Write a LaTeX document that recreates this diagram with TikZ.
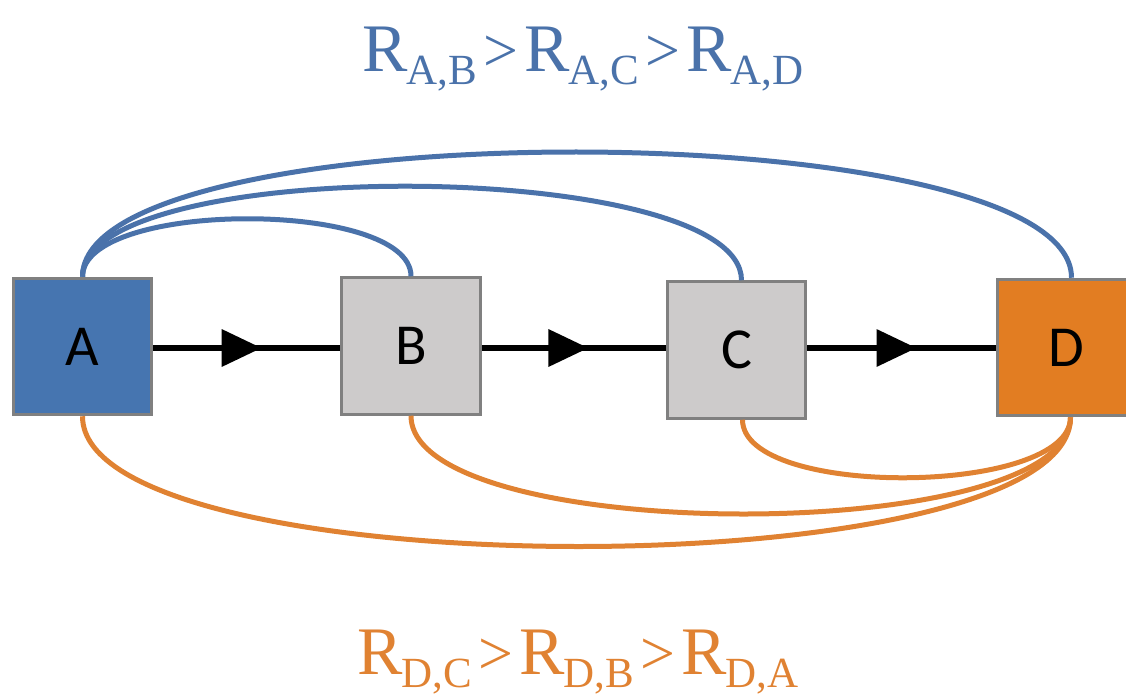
\documentclass[tikz,border=0pt]{standalone}
\usepackage{fontspec}
\setmainfont{Liberation Serif}
\newfontfamily\boxfont{Carlito}
\usetikzlibrary{arrows.meta,decorations.markings}

\definecolor{nodeblue}{RGB}{70,117,176}
\definecolor{linkblue}{RGB}{74,114,170}
\definecolor{nodeorange}{RGB}{226,125,34}
\definecolor{linkorange}{RGB}{224,130,50}
\definecolor{boxgray}{RGB}{205,203,203}
\definecolor{edgegray}{RGB}{128,128,128}

% R with a lowered subscript pair
\newcommand\Rpair[1]{R\kern-1pt\raisebox{-13pt}{\fontsize{43}{43}\selectfont #1}}
\newcommand\gt{\kern6pt{\fontsize{62}{62}\selectfont >}\kern6pt}

\begin{document}
\begin{tikzpicture}[x=1pt,y=-1pt,
  box/.style={draw=edgegray, line width=3pt, minimum width=138.5pt,
    minimum height=136.5pt, inner sep=0pt,
    font=\boxfont\fontsize{58}{58}\selectfont},
  flow/.style={line width=6.5pt, draw=black,
    postaction={decorate},
    decoration={markings, mark=at position 0.58 with
      {\arrow{Triangle[length=40pt,width=36pt]}}}},
  uplink/.style={draw=linkblue, line width=5pt},
  downlink/.style={draw=linkorange, line width=5pt},
  rank/.style={anchor=base, inner sep=0pt,
    font=\fontsize{68}{68}\selectfont},
]
\clip (0,0) rectangle (1126,695);

% the four stages
\node[box, fill=nodeblue]   (A) at (82.5,346.5)  {A};
\node[box, fill=boxgray]    (B) at (411,346)     {B};
\node[box, fill=boxgray]    (C) at (736.5,350)   {C};
\node[box, fill=nodeorange] (D) at (1066.5,347.5) {D};

% forward flow
\draw[flow] (A.east |- 0,348) -- (B.west |- 0,348);
\draw[flow] (B.east |- 0,348) -- (C.west |- 0,348);
\draw[flow] (C.east |- 0,348) -- (D.west |- 0,348);

% links from A, above
\draw[uplink] (A.north) .. controls +(0,-77) and +(0,-77) .. (B.north);
\draw[uplink] (A.north) .. controls +(0,-123) and +(0,-123) .. ([xshift=5pt]C.north);
\draw[uplink] (A.north) .. controls +(0,-167) and +(0,-167) .. ([xshift=5pt]D.north);

% links from D, below
\draw[downlink] ([xshift=4pt]D.south) .. controls +(0,79) and +(0,79) .. ([xshift=6pt]C.south);
\draw[downlink] ([xshift=4pt]D.south) .. controls +(0,130) and +(0,130) .. (B.south);
\draw[downlink] ([xshift=4pt]D.south) .. controls +(0,173) and +(0,173) .. (A.south);

% rankings
\node[rank, text=linkblue] (upper) at (583,72)
  {\Rpair{A,B}\gt\Rpair{A,C}\gt\Rpair{A,D}};
\node[rank, text=linkorange] (lower) at (578,674)
  {\Rpair{D,C}\gt\Rpair{D,B}\gt\Rpair{D,A}};
\end{tikzpicture}
\end{document}
